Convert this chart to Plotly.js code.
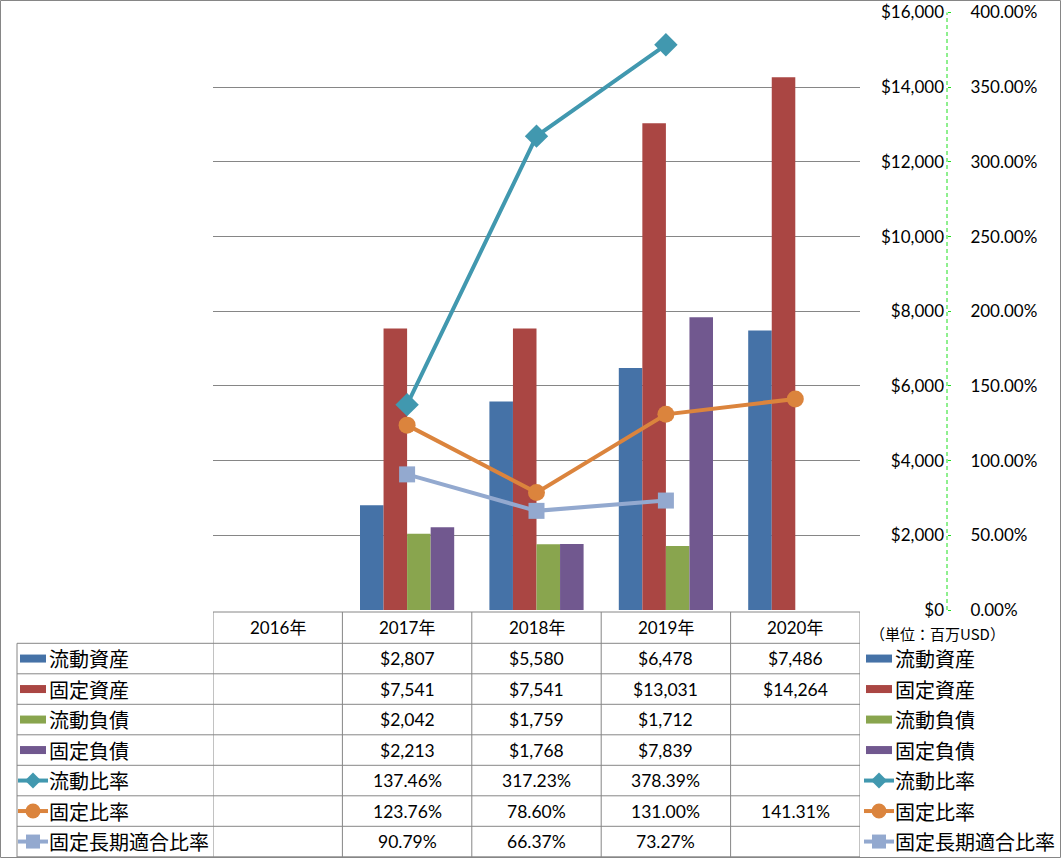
<!DOCTYPE html>
<html><head><meta charset="utf-8">
<script src="https://cdn.plot.ly/plotly-3.0.1.min.js"></script>
<style>body{margin:0;background:#fff}#chart{width:1061px;height:858px}</style>
</head><body><div id="chart"></div>
<script>
// ---- data ----
const years = ['2016年', '2017年', '2018年', '2019年', '2020年'];
const currentAssets = [null, 2807, 5580, 6478, 7486];
const fixedAssets = [null, 7541, 7541, 13031, 14264];
const currentLiabilities = [null, 2042, 1759, 1712, null];
const fixedLiabilities = [null, 2213, 1768, 7839, null];
const currentRatio = [null, 137.46, 317.23, 378.39, null];
const fixedRatio = [null, 123.76, 78.60, 131.00, 141.31];
const fixedLongTermRatio = [null, 90.79, 66.37, 73.27, null];
const dollarTicks = [0, 2000, 4000, 6000, 8000, 10000, 12000, 14000, 16000];
const dollarTickText = ['$0', '$2,000', '$4,000', '$6,000', '$8,000', '$10,000', '$12,000', '$14,000', '$16,000'];
const percentTicks = [0, 50, 100, 150, 200, 250, 300, 350, 400];
const percentTickText = ['0.00%', '50.00%', '100.00%', '150.00%', '200.00%', '250.00%', '300.00%', '350.00%', '400.00%'];
const seriesNames = ['流動資産', '固定資産', '流動負債', '固定負債', '流動比率', '固定比率', '固定長期適合比率'];
const unitLabel = '（単位：百万USD）';

// ---- styling ----
const W = 1061, H = 858;
const X = p => p / W, Y = p => (H - p) / H;
const LATIN = 'Lato, "Noto Sans CJK JP", sans-serif';
const CJK = '"Noto Sans CJK JP", sans-serif';
const GRID = '#868686';
const colors = ['#4572A7', '#AA4643', '#89A54E', '#71588F', '#4198AF', '#DB843D', '#93A9CF'];
const symbols = [null, null, null, null, 'diamond', 'circle', 'square'];
const markerSizes = [0, 0, 0, 0, 18, 17, 16];

const barData = [currentAssets, fixedAssets, currentLiabilities, fixedLiabilities];
const lineData = [currentRatio, fixedRatio, fixedLongTermRatio];

const traces = [];
barData.forEach((vals, i) => {
  traces.push({type: 'bar', x: years, y: vals, name: seriesNames[i],
    marker: {color: colors[i]}, showlegend: false, hoverinfo: 'skip'});
});
lineData.forEach((vals, j) => {
  const i = j + 4;
  traces.push({type: 'scatter', mode: 'lines+markers', x: years, y: vals, name: seriesNames[i],
    yaxis: 'y2', line: {color: colors[i], width: 4},
    marker: {color: colors[i], symbol: symbols[i], size: markerSizes[i]},
    showlegend: false, hoverinfo: 'skip', connectgaps: false});
});

// ---- table geometry ----
const plotTop = 12.5, plotBottom = 610;
const headerTop = 612, rowTop0 = 643.3, rowH = 30.5;
const nRows = seriesNames.length;
const shapes = [];
const annotations = [];
const lineStyle = {color: GRID, width: 1};

// outer border
shapes.push({type: 'rect', xref: 'paper', yref: 'paper', x0: X(0.5), x1: X(1060.5), y0: Y(0.5), y1: Y(857.5), line: {color: GRID, width: 1}});
// header top line
shapes.push({type: 'line', xref: 'paper', yref: 'paper', x0: X(213), x1: X(860), y0: Y(headerTop), y1: Y(headerTop), line: lineStyle});
// row lines
for (let r = 0; r <= nRows; r++) {
  const yy = rowTop0 + r * rowH;
  shapes.push({type: 'line', xref: 'paper', yref: 'paper', x0: X(17), x1: X(860), y0: Y(yy), y1: Y(yy), line: lineStyle});
}
// column lines (category boundaries)
for (let c = 0; c <= years.length; c++) {
  shapes.push({type: 'line', xref: 'x', yref: 'paper', x0: c - 0.5, x1: c - 0.5, y0: Y(headerTop), y1: Y(857), line: lineStyle});
}
shapes.push({type: 'line', xref: 'paper', yref: 'paper', x0: X(17), x1: X(17), y0: Y(rowTop0), y1: Y(857), line: lineStyle});
// dashed secondary axis line
shapes.push({type: 'line', xref: 'paper', yref: 'paper', x0: X(947), x1: X(947), y0: Y(plotBottom), y1: Y(plotTop), line: {color: '#1fe01f', width: 1, dash: '4px,3px'}});

// header text
years.forEach(yr => {
  annotations.push({xref: 'x', yref: 'paper', x: yr, y: Y((headerTop + rowTop0) / 2), text: yr,
    showarrow: false, font: {family: LATIN, size: 17, color: '#000'}, xanchor: 'center', yanchor: 'middle'});
});
// cell values
const allData = barData.concat(lineData);
allData.forEach((vals, r) => {
  const cy = rowTop0 + rowH * (r + 0.5);
  vals.forEach((v, c) => {
    if (v === null) return;
    const txt = r < 4 ? '$' + v.toLocaleString('en-US') : v.toFixed(2) + '%';
    annotations.push({xref: 'x', yref: 'paper', x: years[c], y: Y(cy), text: txt, showarrow: false,
      font: {family: LATIN, size: 17.5, color: '#000'}, xanchor: 'center', yanchor: 'middle'});
  });
});

// legend keys (left column of table and right legend)
function addKey(r, x0) {
  const cy = rowTop0 + rowH * (r + 0.5);
  if (r < 4) {
    shapes.push({type: 'rect', xref: 'paper', yref: 'paper', x0: X(x0 + 2), x1: X(x0 + 28), y0: Y(cy - 4), y1: Y(cy + 4),
      fillcolor: colors[r], line: {width: 0}});
  } else {
    const cx = x0 + 15;
    shapes.push({type: 'line', xref: 'paper', yref: 'paper', x0: X(x0), x1: X(x0 + 30), y0: Y(cy), y1: Y(cy),
      line: {color: colors[r], width: 4}});
    const s = 8;
    if (symbols[r] === 'diamond') {
      shapes.push({type: 'path', xref: 'paper', yref: 'paper',
        path: `M${X(cx - s)},${Y(cy)} L${X(cx)},${Y(cy - s)} L${X(cx + s)},${Y(cy)} L${X(cx)},${Y(cy + s)} Z`,
        fillcolor: colors[r], line: {width: 0}});
    } else if (symbols[r] === 'circle') {
      shapes.push({type: 'circle', xref: 'paper', yref: 'paper', x0: X(cx - 7.5), x1: X(cx + 7.5), y0: Y(cy - 7.5), y1: Y(cy + 7.5),
        fillcolor: colors[r], line: {width: 0}});
    } else {
      shapes.push({type: 'rect', xref: 'paper', yref: 'paper', x0: X(cx - 7), x1: X(cx + 7), y0: Y(cy - 7), y1: Y(cy + 7),
        fillcolor: colors[r], line: {width: 0}});
    }
  }
  annotations.push({xref: 'paper', yref: 'paper', x: X(x0 + 29), y: Y(cy), text: seriesNames[r], showarrow: false,
    font: {family: CJK, size: 20, color: '#000'}, xanchor: 'left', yanchor: 'middle'});
}
for (let r = 0; r < nRows; r++) { addKey(r, 18); addKey(r, 864); }

// unit label
annotations.push({xref: 'paper', yref: 'paper', x: X(868), y: Y(633), text: unitLabel, showarrow: false,
  font: {family: CJK, size: 15, color: '#000'}, xanchor: 'left', yanchor: 'middle'});

const layout = {
  width: W, height: H, margin: {l: 0, r: 0, t: 0, b: 0},
  paper_bgcolor: '#fff', plot_bgcolor: '#fff',
  barmode: 'group', bargap: 0.272, bargroupgap: 0,
  showlegend: false,
  xaxis: {domain: [X(213), X(860)], type: 'category', categoryarray: years, categoryorder: 'array',
    range: [-0.5, 4.5], showticklabels: false, showgrid: false, zeroline: false, showline: false, ticks: '', fixedrange: true},
  yaxis: {domain: [Y(plotBottom), Y(plotTop)], range: [0, 16000], tickmode: 'array', tickvals: dollarTicks, ticktext: dollarTickText,
    anchor: 'free', position: X(946), side: 'left', showgrid: true, gridcolor: GRID, gridwidth: 1,
    zeroline: false, showline: false, ticks: '', ticklabelstandoff: 2,
    tickfont: {family: LATIN, size: 17, color: '#000'}, fixedrange: true},
  yaxis2: {overlaying: 'y', domain: [Y(plotBottom), Y(plotTop)], range: [0, 400], tickmode: 'array', tickvals: percentTicks, ticktext: percentTickText,
    anchor: 'free', position: X(947), side: 'right', showgrid: false, zeroline: false, showline: false,
    ticks: 'outside', ticklen: 3, tickcolor: '#1fe01f', tickwidth: 1, ticklabelstandoff: 16,
    tickfont: {family: LATIN, size: 17, color: '#000'}, fixedrange: true},
  shapes: shapes,
  annotations: annotations
};

Plotly.newPlot('chart', traces, layout, {displayModeBar: false, staticPlot: true});
</script>
</body></html>
